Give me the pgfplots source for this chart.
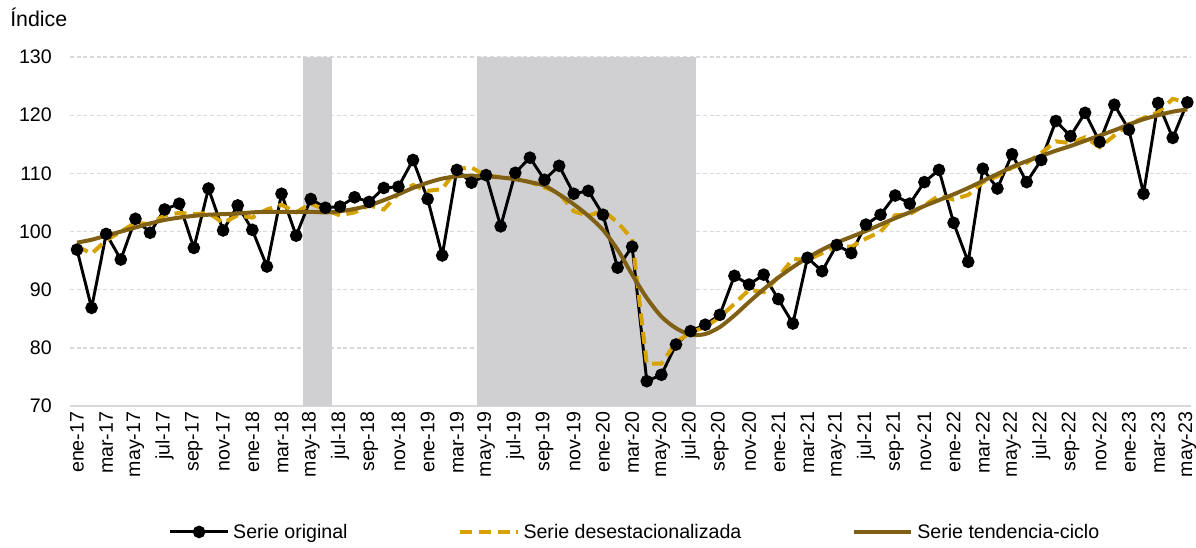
\documentclass[border=0pt]{standalone}
\usepackage{fontspec}
\setmainfont{Liberation Sans}
\usepackage{pgfplots}
\usepackage{pgfplotstable}
\pgfplotsset{compat=1.18}

\definecolor{shade}{RGB}{208,207,209}
\definecolor{gold}{RGB}{214,162,0}
\definecolor{brown}{RGB}{127,96,20}
\definecolor{gridgray}{RGB}{217,217,217}

% i = month index from ene-17; orig, sa (desestacionalizada), tc (tendencia-ciclo)
\pgfplotstableread{
i orig sa tc
0 96.9 97.5 98.1
1 86.9 96.2 98.6
2 99.6 98.5 99.3
3 95.2 100.0 100.0
4 102.2 101.5 100.7
5 99.8 101.3 101.4
6 103.8 102.8 102.0
7 104.8 103.2 102.4
8 97.2 103.0 102.7
9 107.4 103.2 102.9
10 100.2 101.5 103.0
11 104.5 102.8 103.1
12 100.3 102.4 103.3
13 94.0 103.8 103.4
14 106.5 104.6 103.4
15 99.3 103.3 103.4
16 105.6 104.8 103.4
17 104.1 103.7 103.3
18 104.3 102.8 103.5
19 105.9 103.3 103.9
20 105.1 104.5 104.5
21 107.5 103.8 105.4
22 107.7 106.5 106.4
23 112.3 108.0 107.5
24 105.6 107.0 108.4
25 95.9 107.3 109.1
26 110.6 110.8 109.5
27 108.4 111.0 109.6
28 109.7 109.6 109.5
29 100.9 109.4 109.3
30 110.1 109.2 109.0
31 112.7 108.5 108.5
32 108.9 107.6 107.9
33 111.3 106.6 106.4
34 106.5 103.5 104.7
35 107.0 102.7 102.7
36 102.9 103.6 100.3
37 93.8 101.6 96.9
38 97.4 98.7 92.6
39 74.3 77.3 88.6
40 75.4 77.3 85.4
41 80.6 81.0 83.4
42 82.9 82.7 82.3
43 84.0 83.6 82.4
44 85.7 85.3 83.6
45 92.4 87.6 85.6
46 90.9 90.0 87.9
47 92.6 89.6 90.1
48 88.4 92.2 92.1
49 84.2 95.3 93.9
50 95.5 95.1 95.5
51 93.2 96.3 96.9
52 97.7 97.5 98.1
53 96.3 97.4 99.1
54 101.2 98.8 100.1
55 102.9 100.0 101.2
56 106.2 102.8 102.3
57 104.8 103.0 103.3
58 108.5 104.5 104.4
59 110.6 106.2 105.4
60 101.5 105.5 106.4
61 94.8 106.3 107.5
62 110.8 108.5 108.7
63 107.4 109.5 109.9
64 113.3 111.0 111.1
65 108.5 111.8 112.1
66 112.3 113.5 113.0
67 119.0 115.5 113.9
68 116.4 115.2 114.7
69 120.4 116.2 115.6
70 115.4 114.5 116.5
71 121.8 116.5 117.4
72 117.5 118.5 118.4
73 106.5 119.5 119.3
74 122.1 120.5 120.0
75 116.1 122.8 120.6
76 122.2 122.2 121.0
}\datatable

\begin{document}
\begin{tikzpicture}[font=\fontsize{14.7}{17}\selectfont]
\begin{axis}[
  scale only axis, width=841pt, height=262pt,
  xmin=-0.48, xmax=76.25, ymin=70, ymax=130,
  ytick={70,80,...,130},
  xtick={0,2,...,76},
  xticklabels={ene-17,mar-17,may-17,jul-17,sep-17,nov-17,
    ene-18,mar-18,may-18,jul-18,sep-18,nov-18,
    ene-19,mar-19,may-19,jul-19,sep-19,nov-19,
    ene-20,mar-20,may-20,jul-20,sep-20,nov-20,
    ene-21,mar-21,may-21,jul-21,sep-21,nov-21,
    ene-22,mar-22,may-22,jul-22,sep-22,nov-22,
    ene-23,mar-23,may-23},
  /pgf/number format/assume math mode=true,
  major tick length=0pt,
  xticklabel style={rotate=90, anchor=east, inner sep=4pt},
  yticklabel style={anchor=east, inner sep=0pt, xshift=-13.5pt},
  axis x line*=bottom, axis y line*=left,
  x axis line style={draw=gridgray, line width=1.2pt, -},
  y axis line style={draw=none},
  ymajorgrids, grid style={draw=gridgray, line width=0.8pt, dash pattern=on 3pt off 2pt},
  legend columns=3,
  legend style={at={(0.505,-0.36)}, anchor=center, draw=none, fill=none,
    font=\fontsize{14.7}{17}\selectfont,
    nodes={inner sep=3pt},
    /tikz/every even column/.append style={column sep=80pt}},
  legend image code/.code={\draw[mark repeat=2,mark phase=2,#1]
    plot coordinates {(0pt,0pt)(21.5pt,0pt)(43pt,0pt)};},
]
% shaded periods
\addplot[fill=shade, draw=none, forget plot] coordinates {(15.45,130) (17.45,130)} \closedcycle;
\addplot[fill=shade, draw=none, forget plot] coordinates {(27.4,130) (42.35,130)} \closedcycle;

\addplot[black, line width=2.2pt, mark=*, mark size=3.6pt] table[x=i, y=orig] {\datatable};
\addlegendentry{Serie original}
\addplot[gold, line width=3pt, dash pattern=on 9pt off 5pt] table[x=i, y=sa] {\datatable};
\addlegendentry{Serie desestacionalizada}
\addplot[brown, line width=3pt, smooth] table[x=i, y=tc] {\datatable};
\addlegendentry{Serie tendencia-ciclo}

\coordinate (bl) at (rel axis cs:0,0);
\coordinate (tr) at (rel axis cs:1,1);
\coordinate (tl) at (rel axis cs:0,1);
\end{axis}
\node[anchor=base west, inner sep=0pt, font=\fontsize{16}{18}\selectfont] at ([xshift=-45pt, yshift=23pt]tl) {Índice};
\pgfresetboundingbox
\path ([xshift=-52.5pt,yshift=-105.75pt]bl) rectangle ([xshift=3.75pt,yshift=42.75pt]tr);
\end{tikzpicture}
\end{document}
